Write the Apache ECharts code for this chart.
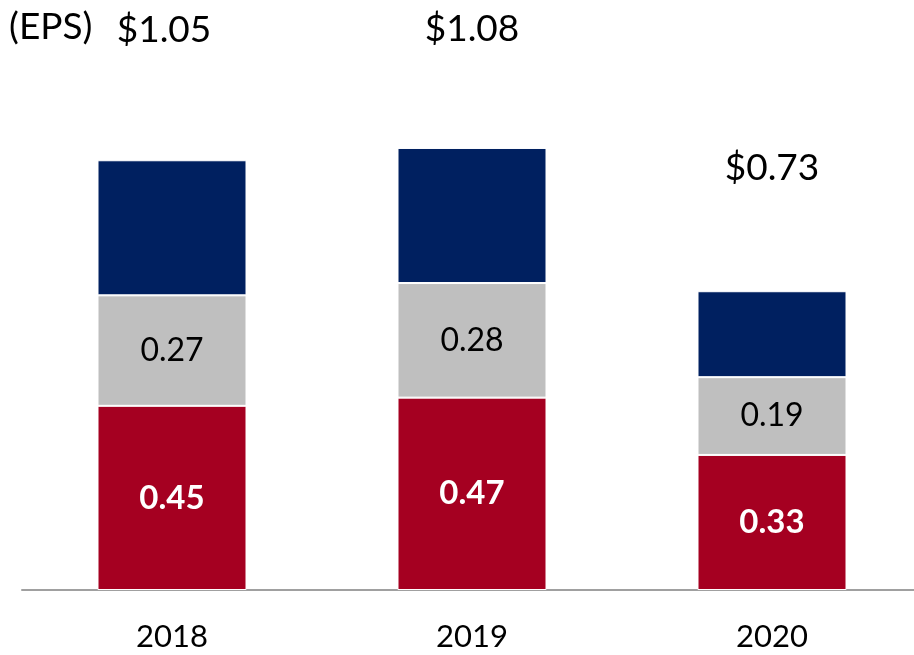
<!DOCTYPE html>
<html>
<head>
<meta charset="utf-8">
<script src="https://cdn.jsdelivr.net/npm/echarts@6/dist/echarts.min.js"></script>
<style>
  html, body { margin: 0; padding: 0; background: #fff; overflow: hidden; }
  /* a bit wider than the window so the last bar slot runs past the right edge */
  #chart { width: 922px; height: 655px; }
</style>
</head>
<body>
<div id="chart"></div>
<script>
  // EPS per year, stacked bottom -> top
  var years = ['2018', '2019', '2020']
  var redPart = [0.45, 0.47, 0.33]
  var grayPart = [0.27, 0.28, 0.19]
  var navyPart = [0.33, 0.33, 0.21]
  var totals = ['$1.05', '$1.08', '$0.73']

  var font = 'Lato'

  // total labels sit at different heights above the bars
  var totalDistance = [112, 100, 105]
  var totalOffsetX = [-8, 0, 0]

  var myChart = echarts.init(document.getElementById('chart'))
  var option = {
    animation: false,
    textStyle: { fontFamily: font },
    grid: {
      left: 22,
      right: 0,
      top: 17,
      bottom: 65
    },
    xAxis: {
      type: 'category',
      data: years,
      axisLine: { show: true, lineStyle: { color: '#a0a0a0', width: 2 } },
      axisTick: { show: false },
      axisLabel: { color: '#000', fontSize: 31, margin: 31, fontFamily: font }
    },
    yAxis: {
      type: 'value',
      min: 0,
      max: 1.4,
      show: false,
      splitLine: { show: false }
    },
    graphic: [
      {
        type: 'text',
        left: 9,
        top: 9,
        style: { text: '(EPS)', fill: '#000', font: '37px ' + font }
      }
    ],
    series: [
      {
        name: 'red',
        type: 'bar',
        stack: 'eps',
        barWidth: 149,
        data: redPart,
        itemStyle: { color: '#a50021', borderColor: '#fff', borderWidth: 1 },
        label: {
          show: true,
          position: 'inside',
          color: '#fff',
          fontWeight: 'bold',
          fontSize: 33,
          fontFamily: font,
          formatter: function (p) { return p.value.toFixed(2) }
        }
      },
      {
        name: 'gray',
        type: 'bar',
        stack: 'eps',
        data: grayPart,
        itemStyle: { color: '#bfbfbf', borderColor: '#fff', borderWidth: 1 },
        label: {
          show: true,
          position: 'inside',
          color: '#000',
          fontSize: 32,
          fontFamily: font,
          formatter: function (p) { return p.value.toFixed(2) }
        }
      },
      {
        name: 'navy',
        type: 'bar',
        stack: 'eps',
        data: navyPart.map(function (v, i) {
          return {
            value: v,
            label: {
              show: true,
              position: 'top',
              distance: totalDistance[i],
              offset: [totalOffsetX[i], 0],
              formatter: totals[i],
              color: '#000',
              fontSize: 37,
              fontFamily: font
            }
          }
        }),
        itemStyle: { color: '#002060', borderColor: '#fff', borderWidth: 1 }
      }
    ]
  }
  myChart.setOption(option)
</script>
</body>
</html>
